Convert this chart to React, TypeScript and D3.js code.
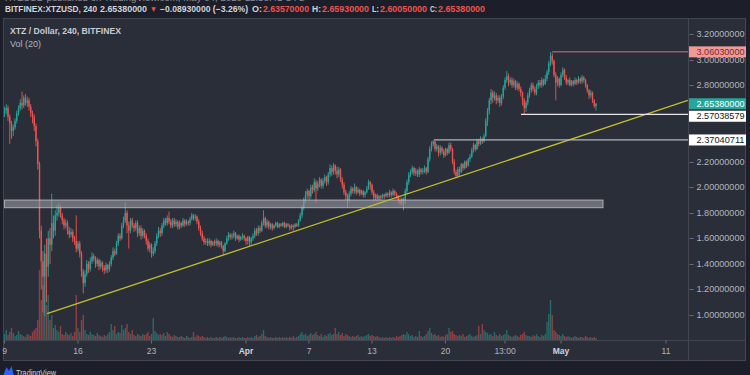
import * as d3 from 'd3'
import React, { useEffect, useRef } from 'react'

// BITFINEX:XTZUSD, 4h candles starting Mar 9 2020 (index 0)
const firstOpen = 2.58
const closes = [
  2.60, 2.62, 2.55, 2.50, 2.44, 2.47, 2.52, 2.58, 2.62, 2.66,
  2.64, 2.70, 2.66, 2.68, 2.63, 2.58, 2.55, 2.48, 2.36, 2.18,
  1.66, 1.42, 1.30, 1.48, 1.38, 1.60, 1.55, 1.72, 1.66, 1.78,
  1.80, 1.84, 1.78, 1.74, 1.70, 1.72, 1.66, 1.63, 1.65, 1.60,
  1.58, 1.52, 1.56, 1.48, 1.34, 1.25, 1.32, 1.40, 1.36, 1.42,
  1.46, 1.44, 1.40, 1.43, 1.38, 1.41, 1.37, 1.35, 1.39, 1.36,
  1.40, 1.45, 1.50, 1.48, 1.56, 1.62, 1.60, 1.70, 1.74, 1.80,
  1.70, 1.66, 1.74, 1.70, 1.68, 1.72, 1.64, 1.68, 1.62, 1.66,
  1.62, 1.58, 1.52, 1.55, 1.48, 1.50, 1.56, 1.62, 1.66, 1.64,
  1.70, 1.74, 1.72, 1.76, 1.73, 1.70, 1.74, 1.71, 1.73, 1.69,
  1.72, 1.70, 1.74, 1.71, 1.73, 1.72, 1.75, 1.78, 1.76, 1.77,
  1.73, 1.68, 1.64, 1.60, 1.57, 1.58, 1.56, 1.58, 1.55, 1.57,
  1.56, 1.58, 1.55, 1.57, 1.54, 1.50, 1.56, 1.60, 1.63, 1.61,
  1.62, 1.64, 1.60, 1.62, 1.59, 1.61, 1.62, 1.60, 1.58, 1.61,
  1.57, 1.60, 1.62, 1.66, 1.64, 1.68, 1.66, 1.72, 1.76, 1.70,
  1.73, 1.69, 1.71, 1.68, 1.70, 1.72, 1.69, 1.71, 1.70, 1.72,
  1.69, 1.71, 1.70, 1.68, 1.70, 1.69, 1.71, 1.70, 1.74, 1.78,
  1.84, 1.90, 1.94, 1.97, 1.93, 2.00, 1.98, 2.04, 1.99, 2.03,
  2.06, 2.01, 2.05, 2.08, 2.04, 2.10, 2.15, 2.12, 2.17, 2.13,
  2.10, 2.14, 2.06, 2.02, 1.96, 1.93, 1.90, 1.95, 1.99, 1.97,
  2.00, 1.96, 1.98, 1.95, 1.97, 1.94, 1.96, 1.99, 2.04, 2.02,
  1.96, 1.92, 1.94, 1.91, 1.93, 1.92, 1.94, 1.93, 1.95, 1.94,
  1.96, 1.94, 1.97, 1.95, 1.93, 1.90, 1.88, 1.91, 1.89, 1.97,
  2.04, 2.10, 2.12, 2.15, 2.11, 2.13, 2.10, 2.14, 2.12, 2.13,
  2.15, 2.12, 2.22, 2.30, 2.34, 2.36, 2.30, 2.32, 2.27, 2.31,
  2.28, 2.25, 2.30, 2.27, 2.33, 2.30, 2.20, 2.12, 2.09, 2.14,
  2.12, 2.18, 2.15, 2.20, 2.17, 2.22, 2.24, 2.29, 2.33, 2.30,
  2.36, 2.34, 2.38, 2.36, 2.40, 2.52, 2.60, 2.68, 2.74, 2.70,
  2.72, 2.68, 2.70, 2.66, 2.71, 2.78, 2.84, 2.87, 2.82, 2.84,
  2.80, 2.83, 2.78, 2.81, 2.77, 2.74, 2.68, 2.62, 2.66, 2.72,
  2.76, 2.80, 2.77, 2.74, 2.79, 2.82, 2.80, 2.84, 2.81, 2.85,
  2.90, 2.97, 3.03, 2.99, 2.88, 2.82, 2.85, 2.80, 2.88, 2.92,
  2.86, 2.82, 2.84, 2.80, 2.83, 2.81, 2.84, 2.82, 2.85, 2.83,
  2.86, 2.84, 2.80, 2.76, 2.72, 2.74, 2.68, 2.6357, 2.6538,
]
const highs = [
  2.63, 2.65, 2.64, 2.57, 2.52, 2.49, 2.54, 2.60, 2.64, 2.69,
  2.75, 2.72, 2.73, 2.71, 2.70, 2.65, 2.60, 2.57, 2.50, 2.38,
  2.20, 1.70, 1.50, 1.55, 1.60, 1.66, 1.68, 1.95, 1.78, 1.82,
  1.86, 1.88, 1.86, 1.80, 1.76, 1.75, 1.74, 1.69, 1.68, 1.67,
  1.62, 1.78, 1.58, 1.58, 1.50, 1.36, 1.35, 1.43, 1.42, 1.45,
  1.49, 1.48, 1.46, 1.45, 1.44, 1.43, 1.42, 1.39, 1.41, 1.40,
  1.42, 1.47, 1.53, 1.52, 1.58, 1.64, 1.64, 1.72, 1.77, 1.88,
  1.82, 1.73, 1.76, 1.76, 1.72, 1.74, 1.74, 1.70, 1.70, 1.68,
  1.67, 1.64, 1.60, 1.57, 1.56, 1.53, 1.58, 1.64, 1.69, 1.68,
  1.72, 1.76, 1.76, 1.78, 1.81, 1.75, 1.76, 1.76, 1.75, 1.74,
  1.74, 1.73, 1.76, 1.75, 1.75, 1.74, 1.77, 1.80, 1.79, 1.79,
  1.78, 1.75, 1.70, 1.66, 1.62, 1.60, 1.60, 1.60, 1.59, 1.58,
  1.59, 1.60, 1.59, 1.58, 1.58, 1.55, 1.57, 1.62, 1.65, 1.64,
  1.64, 1.66, 1.65, 1.63, 1.63, 1.62, 1.64, 1.63, 1.61, 1.62,
  1.62, 1.61, 1.64, 1.68, 1.68, 1.70, 1.70, 1.74, 1.82, 1.77,
  1.75, 1.74, 1.72, 1.72, 1.71, 1.73, 1.73, 1.72, 1.72, 1.73,
  1.73, 1.72, 1.72, 1.71, 1.71, 1.71, 1.72, 1.72, 1.75, 1.80,
  1.86, 1.92, 1.97, 1.99, 1.98, 2.02, 2.02, 2.07, 2.06, 2.05,
  2.08, 2.07, 2.07, 2.10, 2.09, 2.12, 2.18, 2.17, 2.19, 2.18,
  2.16, 2.16, 2.15, 2.08, 2.04, 1.98, 1.95, 1.97, 2.01, 2.00,
  2.03, 2.01, 2.00, 1.99, 1.98, 1.98, 1.97, 2.01, 2.06, 2.05,
  2.03, 1.98, 1.95, 1.95, 1.94, 1.94, 1.95, 1.95, 1.96, 1.96,
  1.98, 1.97, 1.99, 1.98, 1.96, 1.94, 1.92, 1.92, 1.92, 1.99,
  2.06, 2.12, 2.14, 2.17, 2.16, 2.15, 2.14, 2.16, 2.15, 2.15,
  2.17, 2.16, 2.24, 2.32, 2.36, 2.3704, 2.36, 2.34, 2.33, 2.33,
  2.32, 2.30, 2.31, 2.31, 2.35, 2.35, 2.31, 2.22, 2.14, 2.16,
  2.16, 2.19, 2.19, 2.21, 2.21, 2.23, 2.26, 2.31, 2.35, 2.34,
  2.38, 2.38, 2.40, 2.39, 2.42, 2.54, 2.62, 2.70, 2.77, 2.76,
  2.75, 2.74, 2.72, 2.72, 2.73, 2.80, 2.86, 2.91, 2.89, 2.86,
  2.86, 2.85, 2.84, 2.83, 2.82, 2.79, 2.75, 2.70, 2.68, 2.74,
  2.78, 2.82, 2.82, 2.79, 2.81, 2.84, 2.84, 2.86, 2.85, 2.88,
  2.92, 2.99, 3.0603, 3.05, 3.00, 2.90, 2.87, 2.86, 2.90, 2.94,
  2.93, 2.88, 2.85, 2.86, 2.84, 2.84, 2.86, 2.85, 2.87, 2.86,
  2.88, 2.87, 2.85, 2.81, 2.77, 2.76, 2.75, 2.69, 2.6593,
]
const lows = [
  2.55, 2.57, 2.52, 2.34, 2.38, 2.40, 2.45, 2.50, 2.56, 2.60,
  2.61, 2.62, 2.64, 2.63, 2.60, 2.55, 2.50, 2.44, 2.32, 2.14,
  1.60, 1.20, 1.02, 0.99, 1.10, 1.30, 1.40, 1.50, 1.60, 1.62,
  1.74, 1.77, 1.76, 1.71, 1.67, 1.68, 1.63, 1.60, 1.61, 1.57,
  1.55, 1.49, 1.50, 1.45, 1.30, 1.17, 1.22, 1.30, 1.33, 1.34,
  1.40, 1.42, 1.37, 1.38, 1.35, 1.36, 1.34, 1.32, 1.33, 1.33,
  1.34, 1.38, 1.43, 1.46, 1.47, 1.54, 1.58, 1.59, 1.68, 1.72,
  1.64, 1.52, 1.64, 1.68, 1.65, 1.66, 1.61, 1.62, 1.59, 1.60,
  1.60, 1.55, 1.50, 1.49, 1.45, 1.46, 1.48, 1.54, 1.60, 1.61,
  1.62, 1.68, 1.70, 1.70, 1.71, 1.68, 1.68, 1.69, 1.69, 1.67,
  1.67, 1.68, 1.69, 1.69, 1.70, 1.70, 1.70, 1.74, 1.74, 1.74,
  1.71, 1.66, 1.62, 1.58, 1.55, 1.55, 1.54, 1.54, 1.53, 1.54,
  1.54, 1.54, 1.53, 1.53, 1.52, 1.47, 1.49, 1.55, 1.58, 1.59,
  1.59, 1.60, 1.58, 1.59, 1.57, 1.58, 1.59, 1.58, 1.55, 1.55,
  1.54, 1.55, 1.58, 1.60, 1.62, 1.62, 1.64, 1.65, 1.70, 1.68,
  1.68, 1.67, 1.67, 1.66, 1.67, 1.69, 1.68, 1.68, 1.69, 1.69,
  1.68, 1.68, 1.69, 1.66, 1.67, 1.66, 1.68, 1.69, 1.69, 1.73,
  1.76, 1.82, 1.88, 1.91, 1.90, 1.91, 1.95, 1.96, 1.88, 1.97,
  2.00, 1.99, 1.99, 2.03, 2.01, 2.02, 2.08, 2.09, 2.10, 2.10,
  2.07, 2.08, 2.04, 1.99, 1.94, 1.90, 1.84, 1.88, 1.93, 1.95,
  1.95, 1.94, 1.95, 1.93, 1.94, 1.92, 1.92, 1.95, 1.98, 1.98,
  1.94, 1.89, 1.90, 1.89, 1.90, 1.90, 1.91, 1.91, 1.92, 1.92,
  1.92, 1.92, 1.93, 1.93, 1.91, 1.88, 1.86, 1.86, 1.82, 1.87,
  1.95, 2.02, 2.08, 2.10, 2.09, 2.09, 2.08, 2.08, 2.10, 2.10,
  2.11, 2.10, 2.11, 2.20, 2.28, 2.32, 2.28, 2.28, 2.24, 2.25,
  2.26, 2.23, 2.24, 2.25, 2.26, 2.28, 2.18, 2.10, 2.07, 2.08,
  2.08, 2.11, 2.13, 2.14, 2.15, 2.16, 2.20, 2.23, 2.27, 2.28,
  2.29, 2.32, 2.33, 2.34, 2.35, 2.39, 2.48, 2.57, 2.65, 2.66,
  2.68, 2.65, 2.66, 2.63, 2.64, 2.69, 2.76, 2.82, 2.79, 2.80,
  2.78, 2.78, 2.76, 2.76, 2.75, 2.71, 2.64, 2.5704, 2.59, 2.64,
  2.70, 2.74, 2.75, 2.72, 2.72, 2.77, 2.78, 2.78, 2.79, 2.80,
  2.83, 2.88, 2.95, 2.96, 2.86, 2.68, 2.79, 2.78, 2.79, 2.86,
  2.84, 2.80, 2.80, 2.79, 2.79, 2.79, 2.80, 2.80, 2.81, 2.81,
  2.81, 2.82, 2.78, 2.74, 2.69, 2.70, 2.66, 2.62, 2.6005,
]
// volume, thousands of XTZ
const volumes = [
  6, 10, 5, 8, 12, 7, 4, 5, 9, 6,
  5, 4, 3, 6, 5, 4, 8, 10, 12, 20,
  70, 40, 55, 75, 35, 45, 20, 25, 12, 15,
  10, 8, 14, 6, 5, 8, 6, 5, 7, 4,
  8, 45, 12, 8, 20, 25, 10, 6, 5, 8,
  6, 5, 4, 7, 5, 4, 3, 5, 4, 6,
  8, 16, 10, 14, 6, 8, 7, 15, 10, 12,
  16, 8, 6, 10, 5, 4, 6, 5, 4, 6,
  5, 6, 8, 4, 6, 22, 9, 7, 5, 6,
  5, 7, 4, 8, 6, 4, 3, 5, 4, 3,
  3, 4, 3, 2, 4, 3, 2, 3, 8, 3,
  5, 4, 3, 4, 3, 2, 3, 2, 3, 2,
  2, 3, 2, 3, 2, 3, 4, 3, 2, 3,
  2, 3, 2, 2, 3, 2, 3, 2, 2, 3,
  2, 3, 2, 4, 5, 3, 4, 6, 10, 4,
  3, 2, 3, 2, 2, 3, 2, 3, 2, 3,
  2, 3, 2, 3, 2, 4, 2, 3, 4, 6,
  8, 5, 6, 4, 5, 7, 5, 6, 8, 5,
  4, 6, 3, 5, 4, 6, 7, 5, 6, 12,
  6, 8, 5, 7, 4, 6, 5, 4, 3, 4,
  3, 4, 5, 3, 4, 3, 4, 5, 6, 4,
  5, 4, 3, 4, 3, 2, 3, 2, 3, 2,
  3, 2, 3, 2, 4, 3, 4, 5, 6, 5,
  8, 6, 4, 5, 3, 4, 3, 9, 4, 3,
  4, 6, 9, 12, 7, 5, 6, 4, 5, 3,
  4, 3, 5, 6, 12, 8, 9, 6, 5, 4,
  5, 4, 6, 3, 4, 5, 6, 4, 3, 4,
  5, 14, 6, 16, 10, 8, 7, 5, 6, 4,
  8, 5, 4, 6, 4, 5, 6, 10, 5, 4,
  3, 4, 5, 4, 3, 5, 6, 8, 5, 4,
  4, 3, 5, 4, 6, 4, 3, 5, 4, 6,
  18, 26, 40, 25, 10, 8, 6, 5, 4, 6,
  4, 3, 4, 3, 2, 3, 4, 3, 2, 3,
  3, 2, 4, 3, 2, 3, 2, 3, 2,
]

const priceTicks = [1.0, 1.2, 1.4, 1.6, 1.8, 2.0, 2.2, 2.8, 3.0, 3.2]
const timeTickIdx = [0, 42, 84, 138, 174, 210, 252, 286, 318, 378]
const timeTickLabels = ['9', '16', '23', 'Apr', '7', '13', '20', '13:00', 'May', '11']

// drawings
const zonePrices = [1.84, 1.9]
const zoneIdx = [0, 342]
const trendIdx = [24.3, 390.5]
const trendPrices = [1.01, 2.68]
const levelPrices = [3.0603, 2.57038579, 2.37040711]
const levelStartIdx = [312.9, 295.1, 245.4]
const levelColors = ['#c47a7a', '#e6e6e6', '#b4b6bc']
const lastPrice = 2.6538

const header = [
  { t: 'BITFINEX:XTZUSD, 240', x: 5, w: 92, c: '#d1d4dc' },
  { t: '2.65380000', x: 100, w: 47, c: '#d1d4dc' },
  { t: '▼', x: 150, w: 7, c: '#ef5350' },
  { t: '−0.08930000 (−3.26%)', x: 160, w: 88, c: '#d1d4dc' },
  { t: 'O:', x: 252, w: 10, c: '#d1d4dc' },
  { t: '2.63570000', x: 263, w: 46, c: '#ef5350' },
  { t: 'H:', x: 312, w: 9, c: '#d1d4dc' },
  { t: '2.65930000', x: 322, w: 47, c: '#ef5350' },
  { t: 'L:', x: 372, w: 7, c: '#d1d4dc' },
  { t: '2.60050000', x: 380, w: 47, c: '#ef5350' },
  { t: 'C:', x: 430, w: 7, c: '#d1d4dc' },
  { t: '2.65380000', x: 438, w: 47, c: '#ef5350' },
]

const UP = '#26a69a'
const DOWN = '#ef5350'
const FONT = '"Liberation Sans", Arial, sans-serif'

const App = () => {
  const ref = useRef<SVGSVGElement>(null)

  useEffect(() => {
    const svg = d3.select(ref.current)
    svg.selectAll('*').remove()

    const pane = { left: 3.5, top: 18.5, right: 688.5, bottom: 340.5, outerRight: 745.5, outerBottom: 360.5 }
    const x = d3.scaleLinear().domain([0, 390.5]).range([4.5, 687.9])
    const y = d3.scaleLinear().domain([1, 3.2]).range([315, 34])
    const vy = d3.scaleLinear().domain([0, 100]).range([340, 240])

    const opens = closes.map((_, i) => (i === 0 ? firstOpen : closes[i - 1]))

    // backgrounds
    svg.append('rect').attr('width', 750).attr('height', 375).attr('fill', '#1c1f29')
    svg
      .append('rect')
      .attr('x', pane.left)
      .attr('y', pane.top)
      .attr('width', pane.outerRight - pane.left)
      .attr('height', pane.outerBottom - pane.top)
      .attr('fill', '#2a2e39')
      .attr('stroke', '#434651')

    // publish line, mostly above the top edge
    svg
      .append('text')
      .attr('x', 5)
      .attr('y', 1)
      .attr('font-family', FONT)
      .attr('font-size', 9)
      .attr('fill', '#8a8d96')
      .attr('textLength', 300)
      .attr('lengthAdjust', 'spacingAndGlyphs')
      .text('XTZUSD published on TradingView.com, May 04, 2020 12:58:41 UTC')

    // header
    header.forEach((h) => {
      svg
        .append('text')
        .attr('x', h.x)
        .attr('y', 12)
        .attr('font-family', FONT)
        .attr('font-weight', 'bold')
        .attr('font-size', 8.5)
        .attr('fill', h.c)
        .attr('textLength', h.w)
        .attr('lengthAdjust', 'spacingAndGlyphs')
        .text(h.t)
    })

    const defs = svg.append('defs')
    defs
      .append('clipPath')
      .attr('id', 'plot-clip')
      .append('rect')
      .attr('x', pane.left + 0.5)
      .attr('y', pane.top + 0.5)
      .attr('width', pane.right - pane.left - 1)
      .attr('height', pane.bottom - pane.top - 1)

    const plot = svg.append('g').attr('clip-path', 'url(#plot-clip)')

    // volume
    plot
      .append('g')
      .selectAll('rect')
      .data(volumes)
      .join('rect')
      .attr('x', (_, i) => x(i) - 0.7)
      .attr('width', 1.4)
      .attr('y', (v) => vy(v))
      .attr('height', (v) => 340 - vy(v))
      .attr('fill', (_, i) => (closes[i] >= opens[i] ? UP : DOWN))
      .attr('opacity', 0.5)

    // candles
    const candles = plot
      .append('g')
      .selectAll('g')
      .data(closes)
      .join('g')
      .attr('fill', (c, i) => (c >= opens[i] ? UP : DOWN))
      .attr('stroke', (c, i) => (c >= opens[i] ? UP : DOWN))

    candles
      .append('line')
      .attr('x1', (_, i) => x(i))
      .attr('x2', (_, i) => x(i))
      .attr('y1', (_, i) => y(highs[i]))
      .attr('y2', (_, i) => y(lows[i]))
      .attr('stroke-width', 0.9)

    candles
      .append('rect')
      .attr('stroke', 'none')
      .attr('x', (_, i) => x(i) - 0.7)
      .attr('width', 1.4)
      .attr('y', (c, i) => y(Math.max(c, opens[i])))
      .attr('height', (c, i) => Math.max(1, Math.abs(y(c) - y(opens[i]))))

    // support zone
    plot
      .append('rect')
      .attr('x', x(zoneIdx[0]))
      .attr('width', x(zoneIdx[1]) - x(zoneIdx[0]))
      .attr('y', y(zonePrices[1]))
      .attr('height', y(zonePrices[0]) - y(zonePrices[1]))
      .attr('fill', 'rgba(150,152,160,0.62)')
      .attr('stroke', 'rgba(200,202,208,0.75)')
      .attr('stroke-width', 1)

    // trend line
    plot
      .append('line')
      .attr('x1', x(trendIdx[0]))
      .attr('y1', y(trendPrices[0]))
      .attr('x2', x(trendIdx[1]))
      .attr('y2', y(trendPrices[1]))
      .attr('stroke', '#c3c12a')
      .attr('stroke-width', 1.3)

    // horizontal rays
    levelPrices.forEach((p, k) => {
      plot
        .append('line')
        .attr('x1', x(levelStartIdx[k]))
        .attr('x2', pane.right)
        .attr('y1', y(p))
        .attr('y2', y(p))
        .attr('stroke', levelColors[k])
        .attr('stroke-width', k === 0 ? 1 : 1.3)
    })

    // legend
    svg
      .append('text')
      .attr('x', 10)
      .attr('y', 34)
      .attr('font-family', FONT)
      .attr('font-size', 9)
      .attr('font-weight', 'bold')
      .attr('fill', '#c9ccd4')
      .attr('textLength', 111)
      .attr('lengthAdjust', 'spacingAndGlyphs')
      .text('XTZ / Dollar, 240, BITFINEX')
    svg
      .append('text')
      .attr('x', 10)
      .attr('y', 46.5)
      .attr('font-family', FONT)
      .attr('font-size', 9)
      .attr('fill', '#b2b5be')
      .attr('textLength', 31)
      .attr('lengthAdjust', 'spacingAndGlyphs')
      .text('Vol (20)')

    // separators
    svg
      .append('line')
      .attr('x1', pane.right)
      .attr('x2', pane.right)
      .attr('y1', pane.top)
      .attr('y2', pane.outerBottom)
      .attr('stroke', '#434651')
    svg
      .append('line')
      .attr('x1', pane.left)
      .attr('x2', pane.outerRight)
      .attr('y1', pane.bottom)
      .attr('y2', pane.bottom)
      .attr('stroke', '#434651')

    // price axis
    const axis = svg.append('g').attr('font-family', FONT).attr('font-size', 8.5)
    priceTicks.forEach((p) => {
      axis
        .append('line')
        .attr('x1', pane.right + 1)
        .attr('x2', pane.right + 5)
        .attr('y1', Math.round(y(p)) + 0.5)
        .attr('y2', Math.round(y(p)) + 0.5)
        .attr('stroke', '#6a6d78')
      axis
        .append('text')
        .attr('x', 696.5)
        .attr('y', y(p) + 3)
        .attr('fill', '#b2b5be')
        .attr('textLength', 48)
        .attr('lengthAdjust', 'spacingAndGlyphs')
        .text(p.toFixed(8))
    })

    // price labels
    const tags = [
      { p: levelPrices[0], bg: '#ef9a97', fg: '#7d2a2a' },
      { p: lastPrice, bg: UP, fg: '#ffffff' },
      { p: levelPrices[1], bg: '#ffffff', fg: '#131722' },
      { p: levelPrices[2], bg: '#ffffff', fg: '#131722' },
    ]
    let prevY = -100
    tags.forEach((t) => {
      const cy = Math.max(y(t.p), prevY + 12.5)
      prevY = cy
      axis
        .append('rect')
        .attr('x', pane.right + 0.5)
        .attr('y', cy - 5.5)
        .attr('width', 57)
        .attr('height', 11)
        .attr('fill', t.bg)
      axis
        .append('text')
        .attr('x', 696.5)
        .attr('y', cy + 3)
        .attr('fill', t.fg)
        .attr('textLength', 48)
        .attr('lengthAdjust', 'spacingAndGlyphs')
        .text(t.p.toFixed(8))
    })

    // time axis
    const taxis = svg.append('g').attr('font-family', FONT).attr('font-size', 8.5)
    timeTickIdx.forEach((idx, k) => {
      const tx = x(idx)
      taxis
        .append('line')
        .attr('x1', tx)
        .attr('x2', tx)
        .attr('y1', pane.bottom)
        .attr('y2', pane.bottom + 3)
        .attr('stroke', '#6a6d78')
      const label = timeTickLabels[k]
      const isMonth = label === 'Apr' || label === 'May'
      taxis
        .append('text')
        .attr('x', tx)
        .attr('y', 354)
        .attr('text-anchor', 'middle')
        .attr('fill', isMonth ? '#d1d4dc' : '#b2b5be')
        .attr('font-weight', isMonth ? 'bold' : 'normal')
        .text(label)
    })

    // TradingView logo
    svg
      .append('path')
      .attr('d', 'M3 376 L6.5 367 L9 371 L11.5 366 L14 376 Z')
      .attr('fill', '#2962ff')
    svg
      .append('text')
      .attr('x', 16)
      .attr('y', 375.5)
      .attr('font-family', FONT)
      .attr('font-size', 9)
      .attr('fill', '#d1d4dc')
      .attr('textLength', 40)
      .attr('lengthAdjust', 'spacingAndGlyphs')
      .text('TradingView')
  }, [])

  return (
    <div style={{ position: 'absolute', left: 0, top: 0 }}>
      <svg ref={ref} width={750} height={375} style={{ display: 'block' }} />
    </div>
  )
}

export default App
